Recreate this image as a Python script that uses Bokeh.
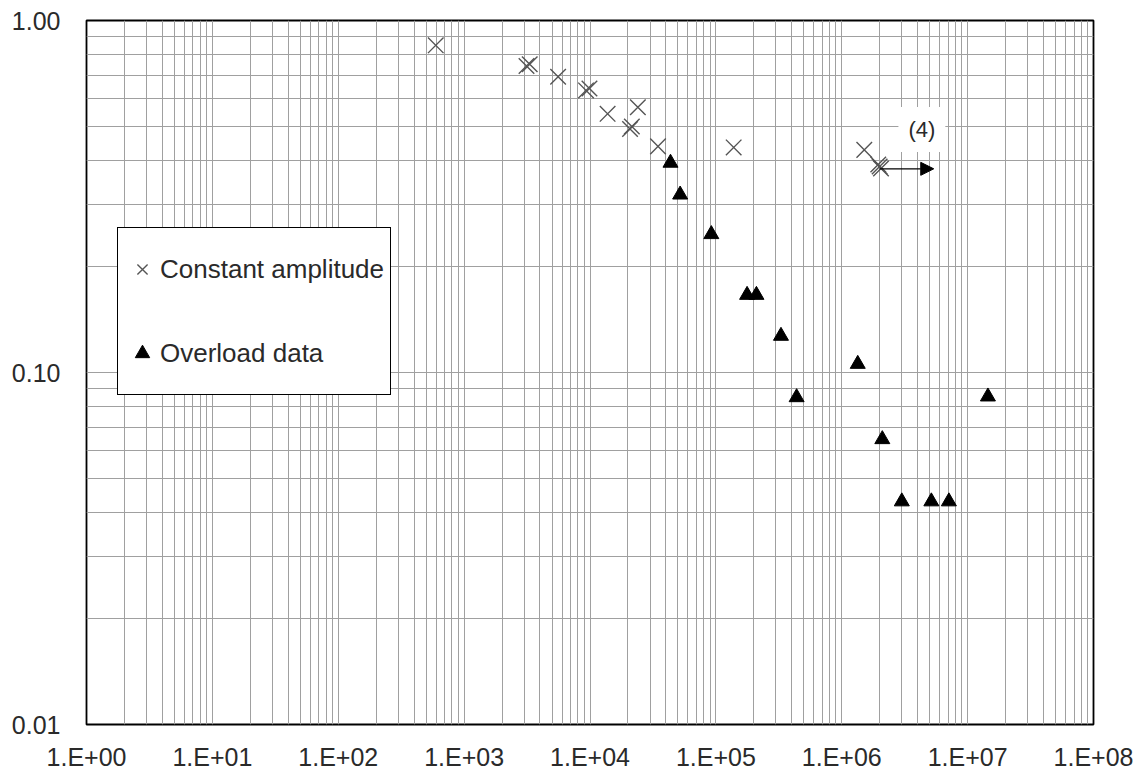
from bokeh.plotting import figure
from bokeh.models import (FixedTicker, CustomJSTickFormatter, Legend, LegendItem,
                          Arrow, NormalHead, Label)
from bokeh.embed import file_html
from bokeh.resources import INLINE

# ---- data ----
ca_cycles = [595, 3130, 3320, 5580, 9300, 9900, 13800, 20800, 21500, 24000,
             34700, 138500, 1.51e6, 1.95e6, 2.0e6, 2.05e6]
ca_amp = [0.85, 0.743, 0.751, 0.692, 0.633, 0.641, 0.543, 0.492, 0.500, 0.567,
          0.439, 0.436, 0.429, 0.390, 0.385, 0.380]

ol_cycles = [4.36e4, 5.2e4, 9.2e4, 1.77e5, 2.1e5, 3.29e5, 4.38e5, 1.34e6,
             2.1e6, 3.0e6, 5.15e6, 7.1e6, 1.45e7]
ol_amp = [0.394, 0.320, 0.247, 0.166, 0.166, 0.127, 0.085, 0.1057,
          0.0646, 0.043, 0.043, 0.043, 0.0854]

x_ticks = [1, 10, 100, 1e3, 1e4, 1e5, 1e6, 1e7, 1e8]
x_tick_labels = ["1.E+00", "1.E+01", "1.E+02", "1.E+03", "1.E+04",
                 "1.E+05", "1.E+06", "1.E+07", "1.E+08"]
y_ticks = [0.01, 0.1, 1.0]
y_tick_labels = ["0.01", "0.10", "1.00"]

arrow_x = [2.0e6, 5.38e6]
arrow_y = [0.379, 0.379]
note_x, note_y, note_text = 4.33e6, 0.49, "(4)"

series_labels = ["Constant amplitude", "Overload data"]

# minor grid positions (2..9 within each decade)
x_minor = [m * 10.0 ** e for e in range(0, 8) for m in range(2, 10)]
y_minor = [m * 10.0 ** e for e in (-2, -1) for m in range(2, 10)]

FONT = "Liberation Sans"
GRID = "#a0a0a0"
TXT = "#2a2a2a"

p = figure(x_axis_type="log", y_axis_type="log",
           x_range=(1, 1e8), y_range=(0.01, 1.0),
           frame_width=1007, frame_height=704,
           min_border_left=86, min_border_top=20,
           min_border_right=41, min_border_bottom=46,
           output_backend="svg", toolbar_location=None)

p.background_fill_color = "white"
p.border_fill_color = "white"
p.outline_line_color = "black"
p.outline_line_width = 1.8

p.xaxis.ticker = FixedTicker(ticks=x_ticks, minor_ticks=x_minor)
p.yaxis.ticker = FixedTicker(ticks=y_ticks, minor_ticks=y_minor)

fmt_code = """
let best = 0; let d = Infinity;
for (let i = 0; i < tick_vals.length; i++) {
  const dd = Math.abs(Math.log10(tick_vals[i]) - Math.log10(tick));
  if (dd < d) { d = dd; best = i; }
}
return tick_labels[best];
"""
p.xaxis.formatter = CustomJSTickFormatter(args=dict(tick_vals=x_ticks, tick_labels=x_tick_labels), code=fmt_code)
p.yaxis.formatter = CustomJSTickFormatter(args=dict(tick_vals=y_ticks, tick_labels=y_tick_labels), code=fmt_code)

for ax in (p.xaxis, p.yaxis):
    ax.axis_line_color = None
    ax.major_tick_line_color = None
    ax.minor_tick_line_color = None
    ax.major_label_text_font = FONT
    ax.major_label_text_font_size = "25px"
    ax.major_label_text_color = TXT
p.xaxis.major_label_standoff = 12
p.yaxis.major_label_standoff = 20

for g in (p.xgrid, p.ygrid):
    g.grid_line_color = GRID
    g.grid_line_width = 1
    g.minor_grid_line_color = GRID
    g.minor_grid_line_width = 1

r_ca = p.scatter(ca_cycles, ca_amp, marker="x", size=22,
                 line_color="#555555", line_width=1.4)
r_ol = p.scatter(ol_cycles, ol_amp, marker="triangle", size=15,
                 fill_color="black", line_color="black")

p.add_layout(Arrow(end=NormalHead(size=13, fill_color="black", line_color="black"),
                   x_start=arrow_x[0], y_start=arrow_y[0],
                   x_end=arrow_x[1], y_end=arrow_y[1],
                   line_color="black", line_width=1.2))

p.add_layout(Label(x=note_x, y=note_y, text=note_text,
                   text_align="center", text_baseline="middle",
                   text_font=FONT, text_font_size="22px", text_color=TXT,
                   background_fill_color="white", padding=10))

legend = Legend(items=[LegendItem(label=series_labels[0], renderers=[r_ca]),
                       LegendItem(label=series_labels[1], renderers=[r_ol])],
                location=(31, 329))
legend.border_line_color = "black"
legend.border_line_width = 1.2
legend.border_line_alpha = 1
legend.background_fill_color = "white"
legend.background_fill_alpha = 1
legend.label_text_font = FONT
legend.label_text_font_size = "26px"
legend.label_text_color = TXT
legend.padding = 6
legend.spacing = 14
legend.glyph_width = 36
legend.glyph_height = 70
legend.label_height = 70
legend.label_standoff = 0
legend.margin = 0
p.add_layout(legend, "center")

open("out.html", "w").write(file_html(p, INLINE))
